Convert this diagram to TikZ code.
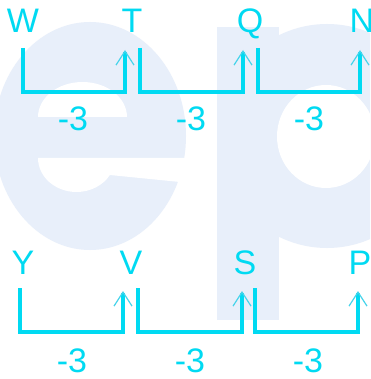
\documentclass[tikz,border=0pt]{standalone}
\usepackage{fontspec}
\setmainfont{Liberation Sans}
\usetikzlibrary{arrows.meta}
\definecolor{cy}{RGB}{0,218,242}
\definecolor{cyl}{RGB}{70,212,235}
\definecolor{wmc}{RGB}{232,239,250}
\begin{document}
\begin{tikzpicture}[x=1pt,y=-1pt,
  lab/.style={text=cy,font=\fontsize{34}{34}\selectfont,inner sep=0pt,anchor=base},
  conn/.style={draw=cy,line width=3.2pt,
    -{Straight Barb[length=14pt,width=18pt,line width=1.2pt,color=cyl]}},
  wm/.style={fill=wmc},
  hole/.style={fill=white}]
\useasboundingbox (0,0) rectangle (370,379);
\clip (0,0) rectangle (370,379);
\fill[white] (0,0) rectangle (370,379);
% watermark "e"
\path[wm] (90,136) ellipse [x radius=96, y radius=114];
\path[hole] (38,117) arc [start angle=180, end angle=360, x radius=44.5, y radius=35] -- cycle;
\path[hole] (200,158) -- (38,158)
  arc [start angle=180, end angle=30, x radius=38.5, y radius=34]
  -- (180,182) -- (200,182) -- cycle;
% watermark "p"
\path[wm] (217,27) rectangle (279,320);
\path[wm] (327,136) ellipse [x radius=110, y radius=112];
\path[hole] (326,136.5) ellipse [x radius=49, y radius=51.5];
% top row
\node[lab] (W) at (23,33) {W};
\node[lab] (T) at (132,33) {T};
\node[lab] (Q) at (250,33) {Q};
\node[lab] (N) at (362,33) {N};
\node[lab] (d1) at (73,131) {-3};
\node[lab] (d2) at (191,131) {-3};
\node[lab] (d3) at (309,131) {-3};
\coordinate (w0) at (23,48);  \coordinate (t1) at (125,92); \coordinate (t2) at (125,50);
\coordinate (t0) at (140,48); \coordinate (q1) at (243,92); \coordinate (q2) at (243,50);
\coordinate (q0) at (258,48); \coordinate (n1) at (360,92); \coordinate (n2) at (360,50);
\draw[conn] (w0) |- (t1) -- (t2);
\draw[conn] (t0) |- (q1) -- (q2);
\draw[conn] (q0) |- (n1) -- (n2);
% bottom row
\node[lab] (Y) at (23,274) {Y};
\node[lab] (V) at (131,274) {V};
\node[lab] (S) at (245,274) {S};
\node[lab] (P) at (360,274) {P};
\node[lab] (e1) at (72,372) {-3};
\node[lab] (e2) at (190,372) {-3};
\node[lab] (e3) at (308,372) {-3};
\coordinate (y0) at (20,288);  \coordinate (v1) at (123,332); \coordinate (v2) at (123,291);
\coordinate (v0) at (138,288); \coordinate (s1) at (242,332); \coordinate (s2) at (242,291);
\coordinate (s0) at (255,288); \coordinate (p1) at (358,332); \coordinate (p2) at (358,291);
\draw[conn] (y0) |- (v1) -- (v2);
\draw[conn] (v0) |- (s1) -- (s2);
\draw[conn] (s0) |- (p1) -- (p2);
\end{tikzpicture}
\end{document}
